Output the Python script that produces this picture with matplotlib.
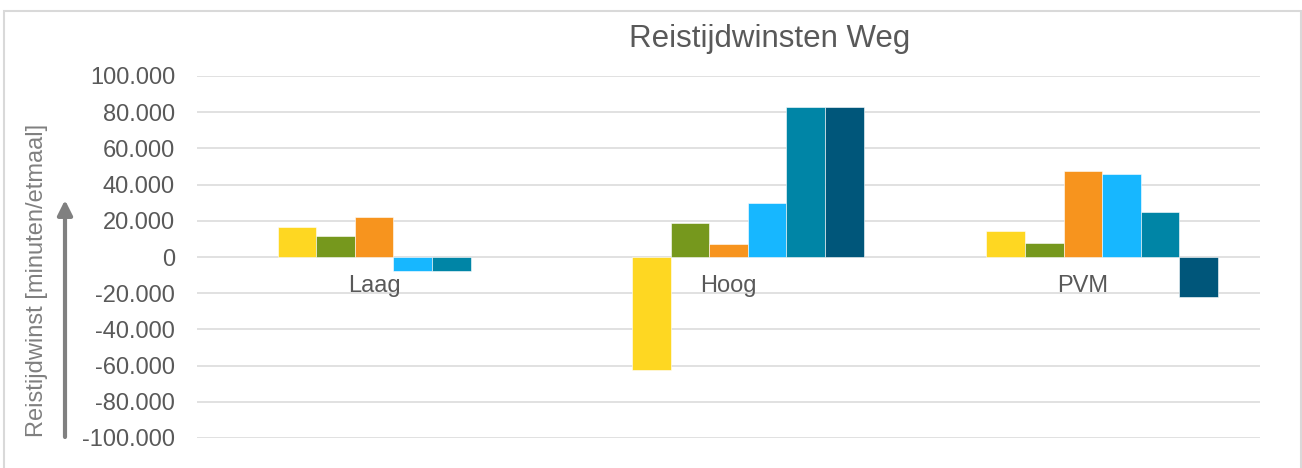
import matplotlib
matplotlib.use('Agg')
import matplotlib.pyplot as plt
import numpy as np
from matplotlib.patches import Rectangle
from matplotlib.ticker import FuncFormatter

plt.rcParams['font.family'] = ['Liberation Sans', 'DejaVu Sans']

# data
categories = ['Laag', 'Hoog', 'PVM']
serie_leeg = [np.nan, np.nan, np.nan]   # lege eerste reeks (Excel laat ruimte vrij)
serie_1 = [16600, -62400, 14400]
serie_2 = [11800, 19000, 7900]
serie_3 = [22300, 7000, 47700]
serie_4 = [-7600, 29600, 45900]
serie_5 = [-7700, 82700, 24700]
serie_6 = [np.nan, 82700, -21900]
yticks = [-100000, -80000, -60000, -40000, -20000, 0, 20000, 40000, 60000, 80000, 100000]

series = [serie_leeg, serie_1, serie_2, serie_3, serie_4, serie_5, serie_6]
colors = ['none', '#FED722', '#76981D', '#F7941E', '#17B7FF', '#0085A6', '#00567A']

W, H = 1302, 468
fig = plt.figure(figsize=(W / 100, H / 100), dpi=100)
ax = fig.add_axes([197 / W, 1 - 438 / H, (1260 - 197) / W, (438 - 76) / H])

x = np.arange(len(categories))
bw = 38.6 / 354.3
for k, (vals, c) in enumerate(zip(series, colors)):
    if c == 'none':
        continue
    ax.bar(x + (k - 3) * bw, vals, width=bw, color=c, edgecolor='white', linewidth=0.4, zorder=3)

ax.set_xlim(-0.5, len(categories) - 0.5)
ax.set_ylim(-100000, 100000)
ax.set_yticks(yticks)
ax.yaxis.set_major_formatter(FuncFormatter(lambda v, p: f"{v:,.0f}".replace(',', '.')))
ax.tick_params(axis='y', length=0, pad=15.8, labelsize=17, labelcolor='#595959')
ax.set_xticks([])
ax.grid(axis='y', color='#D9D9D9', linewidth=1.1, zorder=0)
for s in ax.spines.values():
    s.set_visible(False)

# categorie-labels direct onder de nul-as
for i, lab in enumerate(categories):
    ax.annotate(lab, xy=(i, 0), xytext=(0, -25.2), textcoords='offset points',
                ha='center', va='baseline', fontsize=17, color='#595959', zorder=4)

fig.text(770 / W, 1 - 47.3 / H, 'Reistijdwinsten Weg', ha='center', va='baseline',
         fontsize=22.5, color='#595959')

fig.text(42.7 / W, 1 - 437 / H, 'Reistijdwinst [minuten/etmaal]', rotation=90,
         rotation_mode='anchor', ha='left', va='baseline', fontsize=17, color='#808080')

ax.annotate('', xy=(65 / W, 1 - 200 / H), xytext=(65 / W, 1 - 437 / H),
            xycoords='figure fraction', textcoords='figure fraction',
            arrowprops=dict(arrowstyle='-|>', lw=3, color='#808080', mutation_scale=22,
                            shrinkA=0, shrinkB=0))

fig.patches.append(Rectangle((4 / W, -0.05), (1301 - 4) / W, 1.05 - 11 / H,
                             transform=fig.transFigure, fill=False,
                             edgecolor='#D9D9D9', linewidth=1.5))

fig.savefig('out.png', dpi=100)
